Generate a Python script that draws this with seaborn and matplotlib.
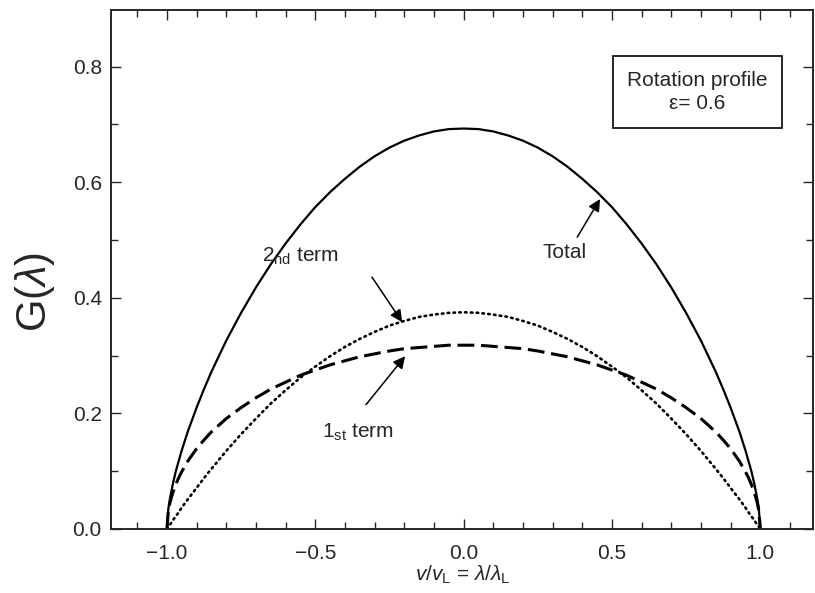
import matplotlib
matplotlib.use("Agg")
import matplotlib.pyplot as plt
import seaborn as sns
import pandas as pd

# values (profile is symmetric about 0)
lam = [-1.0, -0.995, -0.99, -0.98, -0.97, -0.96, -0.95, -0.93, -0.9, -0.875, -0.85, -0.8, -0.75, -0.7,
       -0.65, -0.6, -0.55, -0.5, -0.45, -0.4, -0.35, -0.3, -0.25, -0.2, -0.15, -0.1, -0.05,
       0.0,
       0.05, 0.1, 0.15, 0.2, 0.25, 0.3, 0.35, 0.4, 0.45, 0.5, 0.55, 0.6, 0.65,
       0.7, 0.75, 0.8, 0.85, 0.875, 0.9, 0.93, 0.95, 0.96, 0.97, 0.98, 0.99, 0.995, 1.0]
first_term = [0.0, 0.032, 0.045, 0.063, 0.077, 0.089, 0.099, 0.117, 0.139, 0.154, 0.168, 0.191, 0.210, 0.227,
              0.242, 0.254, 0.266, 0.275, 0.284, 0.291, 0.298, 0.303, 0.308, 0.312, 0.314, 0.316, 0.318,
              0.318,
              0.318, 0.316, 0.314, 0.312, 0.308, 0.303, 0.298, 0.291, 0.284, 0.275, 0.266, 0.254, 0.242,
              0.227, 0.210, 0.191, 0.168, 0.154, 0.139, 0.117, 0.099, 0.089, 0.077, 0.063, 0.045, 0.032, 0.0]
second_term = [0.0, 0.004, 0.007, 0.015, 0.022, 0.029, 0.037, 0.051, 0.071, 0.088, 0.104, 0.135, 0.164, 0.191,
               0.217, 0.240, 0.262, 0.281, 0.299, 0.315, 0.329, 0.341, 0.352, 0.360, 0.367, 0.371, 0.374,
               0.375,
               0.374, 0.371, 0.367, 0.360, 0.352, 0.341, 0.329, 0.315, 0.299, 0.281, 0.262, 0.240, 0.217,
               0.191, 0.164, 0.135, 0.104, 0.088, 0.071, 0.051, 0.037, 0.029, 0.022, 0.015, 0.007, 0.004, 0.0]
total = [0.0, 0.036, 0.052, 0.078, 0.100, 0.118, 0.136, 0.168, 0.210, 0.242, 0.272, 0.326, 0.374, 0.418,
         0.458, 0.494, 0.527, 0.557, 0.583, 0.606, 0.627, 0.645, 0.660, 0.672, 0.681, 0.688, 0.692,
         0.693,
         0.692, 0.688, 0.681, 0.672, 0.660, 0.645, 0.627, 0.606, 0.583, 0.557, 0.527, 0.494, 0.458,
         0.418, 0.374, 0.326, 0.272, 0.242, 0.210, 0.168, 0.136, 0.118, 0.100, 0.078, 0.052, 0.036, 0.0]

df = pd.DataFrame({"lam": lam, "first": first_term, "second": second_term, "total": total})

sns.set_style("ticks")
plt.rcParams["font.family"] = ["Liberation Sans", "DejaVu Sans"]
plt.rcParams["mathtext.fontset"] = "custom"
plt.rcParams["mathtext.rm"] = "Liberation Sans"
plt.rcParams["mathtext.it"] = "Liberation Sans:italic"

fig = plt.figure(figsize=(8.15, 5.93), dpi=100)
ax = fig.add_axes([0.136, 0.108, 0.862, 0.875])

sns.lineplot(data=df, x="lam", y="total", ax=ax, color="black", lw=1.6, sort=False)
sns.lineplot(data=df, x="lam", y="first", ax=ax, color="black", lw=2.2, sort=False,
             linestyle=(0, (5.5, 2.2)))
sns.lineplot(data=df, x="lam", y="second", ax=ax, color="black", lw=1.9, sort=False,
             linestyle=(0, (0.6, 1.6)), dash_capstyle="round")

ax.set_xlim(-1.189, 1.179)
ax.set_ylim(0, 0.898)
ax.set_xticks([-1.0, -0.5, 0.0, 0.5, 1.0])
ax.set_xticklabels(["\u22121.0", "\u22120.5", "0.0", "0.5", "1.0"])
ax.set_yticks([0.0, 0.2, 0.4, 0.6, 0.8])
ax.set_xticks([i / 10 for i in range(-11, 12)], minor=True)
ax.set_yticks([i / 10 for i in range(0, 9)], minor=True)
ax.tick_params(which="both", direction="in", top=True, right=True, labelsize=15, width=1.0)
ax.tick_params(which="major", length=7)
ax.tick_params(which="minor", length=5)
ax.tick_params(axis="x", which="major", pad=11)
ax.tick_params(axis="y", which="major", pad=6.5)
for s in ax.spines.values():
    s.set_linewidth(1.4)

ax.set_xlabel(r"$\it{v}/\it{v}_{\rm L}$ = $\lambda/\lambda_{\rm L}$", fontsize=15, labelpad=0)
ax.set_ylabel(r"G($\lambda$)", fontsize=30)
ax.yaxis.set_label_coords(-0.077, 0.457)

ax.text(0.835, 0.842, "Rotation profile\n\u03b5= 0.6", transform=ax.transAxes, ha="center", va="center",
        fontsize=15, linespacing=1.3,
        bbox=dict(boxstyle="square,pad=0.7", fc="white", ec="black", lw=1.2))

arrow = dict(arrowstyle="-|>", color="black", lw=1.1, mutation_scale=18, shrinkA=0, shrinkB=0)
ax.annotate("", xy=(0.46, 0.571), xytext=(0.383, 0.505), arrowprops=arrow)
ax.text(0.342, 0.478, "Total", ha="center", va="center", fontsize=15)
ax.annotate("", xy=(-0.207, 0.358), xytext=(-0.309, 0.436), arrowprops=arrow)
ax.text(-0.551, 0.472, r"2$_{\rm nd}$ term", ha="center", va="center", fontsize=15)
ax.annotate("", xy=(-0.197, 0.299), xytext=(-0.329, 0.215), arrowprops=arrow)
ax.text(-0.356, 0.168, r"1$_{\rm st}$ term", ha="center", va="center", fontsize=15)

fig.savefig("out.png", dpi=100)
